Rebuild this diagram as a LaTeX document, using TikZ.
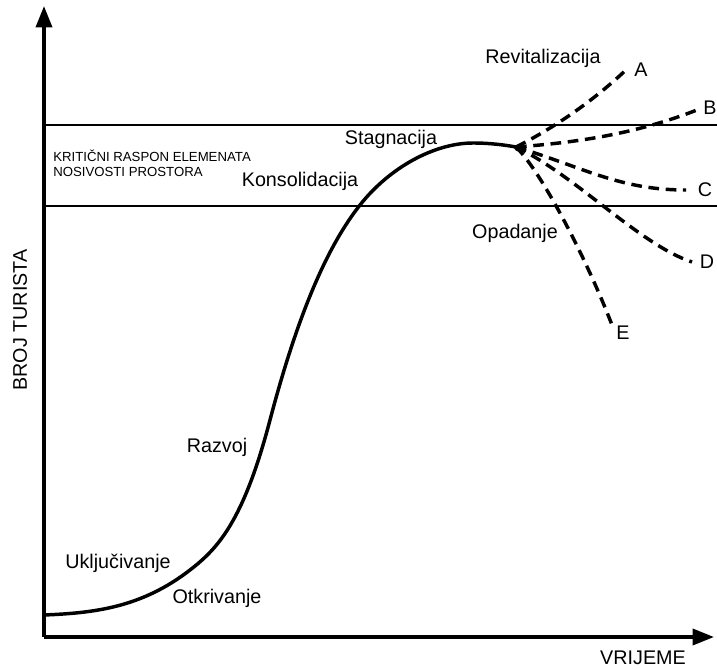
\documentclass[tikz,border=0pt]{standalone}
\usepackage{fontspec}
\setmainfont{Liberation Sans}
\usetikzlibrary{arrows.meta}
\begin{document}
\begin{tikzpicture}[x=0.75pt,y=-0.75pt,
  axis/.style={line width=2.6pt,-{Triangle[length=16pt,width=12pt]}},
  limit/.style={line width=2.1pt},
  curve/.style={line width=2.6pt},
  branch/.style={line width=2.6pt,dash pattern=on 8pt off 5pt},
  lbl/.style={inner sep=0pt,font=\fontsize{14.8pt}{17pt}\selectfont},
  small/.style={inner sep=0pt,align=left,font=\fontsize{9.9pt}{11.3pt}\selectfont}]
\useasboundingbox (0,0) rectangle (717,670);
% axes
\coordinate (origin) at (44,637);
\coordinate (ytip) at (44,6);
\coordinate (xtip) at (714,637);
\draw[axis] (origin) -- (ytip);
\draw[axis] (origin) -- (xtip);
% critical range lines
\coordinate (t1) at (44,125); \coordinate (t2) at (717,125);
\coordinate (b1) at (44,206); \coordinate (b2) at (717,206);
\draw[limit] (t1) -- (t2);
\draw[limit] (b1) -- (b2);
% main curve
\coordinate (P0) at (44,615);
\coordinate (P1) at (190,570);
\coordinate (P2) at (270,420);
\coordinate (P3) at (360,205);
\coordinate (P4) at (473,143);
\coordinate (S) at (516,147);
\draw[curve] (P0) .. controls (93,613) and (141,608) .. (P1)
  .. controls (217,549) and (243,523) .. (P2)
  .. controls (300,306) and (330,243) .. (P3)
  .. controls (390,167) and (435,143) .. (P4)
  .. controls (490,143) and (505,145) .. (S);
\fill (520,148) ellipse (6 and 3.5);
% branches
\coordinate (A) at (628,68);
\coordinate (B) at (697,110);
\coordinate (C) at (686,190);
\coordinate (D) at (692,262);
\coordinate (E) at (612,325);
\draw[branch] (S) .. controls (560,125) and (600,95) .. (A);
\draw[branch] (S) .. controls (585,142) and (640,132) .. (B);
\draw[branch] (S) .. controls (585,168) and (620,190) .. (C);
\draw[branch] (S) .. controls (575,175) and (640,245) .. (D);
\draw[branch] (S) .. controls (540,170) and (585,255) .. (E);
% labels
\node[lbl] (lA) at (641,70) {A};
\node[lbl] (lB) at (710,108) {B};
\node[lbl] (lC) at (705,190) {C};
\node[lbl] (lD) at (707,262) {D};
\node[lbl] (lE) at (623,333) {E};
\node[lbl] (rev) at (543,58) {Revitalizacija};
\node[lbl] (stag) at (391,139) {Stagnacija};
\node[lbl] (kons) at (300,181) {Konsolidacija};
\node[lbl] (opad) at (515,233) {Opadanje};
\node[lbl] (razv) at (217,447) {Razvoj};
\node[lbl] (uklj) at (118,563) {Uključivanje};
\node[lbl] (otkr) at (217,598) {Otkrivanje};
\node[small,anchor=north west] (krit) at (53,150) {KRITIČNI RASPON ELEMENATA\\NOSIVOSTI PROSTORA};
\node[lbl,rotate=90] (yl) at (20,320) {BROJ TURISTA};
\node[lbl] (xl) at (643,658) {VRIJEME};
\end{tikzpicture}
\end{document}
